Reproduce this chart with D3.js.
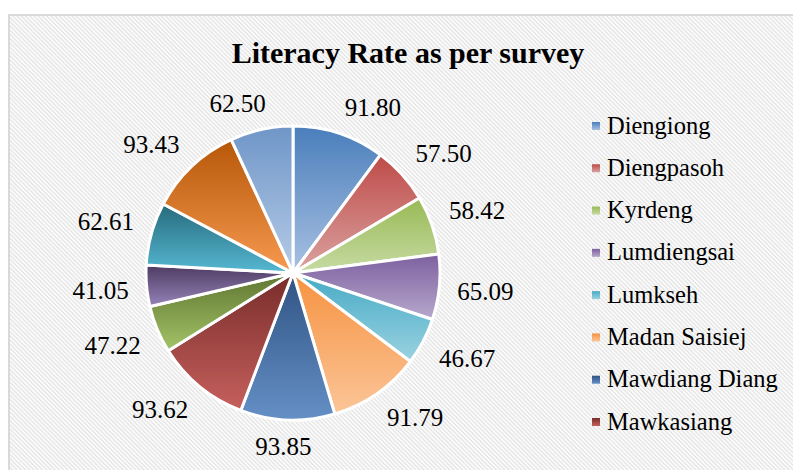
<!DOCTYPE html>
<html>
<head>
<meta charset="utf-8">
<script src="https://cdn.jsdelivr.net/npm/d3@7"></script>
<style>
  html, body { margin: 0; padding: 0; background: #fff; }
  svg { display: block; }
</style>
</head>
<body>
<svg id="chart" width="793" height="470"></svg>
<script>
// ---- data ----
const title = "Literacy Rate as per survey";
// legend entries that are visible in the reference (the rest are cut off there)
const legendNames = ["Diengiong", "Diengpasoh", "Kyrdeng", "Lumdiengsai", "Lumkseh",
                     "Madan Saisiej", "Mawdiang Diang", "Mawkasiang"];
const literacy = [91.80, 57.50, 58.42, 65.09, 46.67, 91.79, 93.85, 93.62, 47.22, 41.05, 62.61, 93.43, 62.50];

// ---- style ----
const FONT = "'Liberation Serif', 'Times New Roman', Tinos, 'DejaVu Serif', serif";
const topColors = ["#4a7ebb","#be4b48","#98b954","#7d60a0","#46aac5","#f69240",
                   "#2f5282","#772c2a","#5f7530","#4d3b62","#276a7c","#b65708","#6f96c8"];
const bottomColors = ["#a9c1e2","#daa3a1","#c7dba4","#b7a8cc","#9ad2e1","#fbc598",
                      "#6590c6","#c6605d","#a3c468","#9683b8","#55b8d2","#f79a50","#b6cbe6"];

const W = 793, H = 470;
const svg = d3.select("#chart").style("font-family", FONT);
const defs = svg.append("defs");

// diagonal stripe background
const pat = defs.append("pattern")
  .attr("id", "stripes").attr("patternUnits", "userSpaceOnUse")
  .attr("width", 3).attr("height", 3)
  .attr("patternTransform", "rotate(-45)");
pat.append("rect").attr("width", 3).attr("height", 3).attr("fill", "#ffffff");
pat.append("rect").attr("width", 1.4).attr("height", 3).attr("fill", "#e2e2e2");

svg.append("rect").attr("width", W).attr("height", H).attr("fill", "#fff");
svg.append("rect")
  .attr("x", 9).attr("y", 15).attr("width", W + 10).attr("height", H + 10)
  .attr("fill", "url(#stripes)")
  .attr("stroke", "#d9d9d9").attr("stroke-width", 2);

// gradients
literacy.forEach((v, i) => {
  const g = defs.append("linearGradient").attr("id", "grad" + i)
    .attr("x1", 0).attr("y1", 0).attr("x2", 0).attr("y2", 1);
  g.append("stop").attr("offset", "0%").attr("stop-color", topColors[i]);
  g.append("stop").attr("offset", "100%").attr("stop-color", bottomColors[i]);
});

// title
svg.append("text")
  .attr("x", 408).attr("y", 63)
  .attr("text-anchor", "middle")
  .style("font-family", FONT)
  .style("font-size", "30px").style("font-weight", "bold")
  .attr("fill", "#000")
  .text(title);

// pie
const cx = 293, cy = 273, r = 147;
const pie = d3.pie().sort(null).value(d => d);
const arcs = pie(literacy);
const arc = d3.arc().innerRadius(0).outerRadius(r);
const g = svg.append("g").attr("transform", `translate(${cx},${cy})`);

g.selectAll("path.slice").data(arcs).enter().append("path")
  .attr("class", "slice")
  .attr("d", arc)
  .attr("fill", (d, i) => `url(#grad${i})`)
  .attr("stroke", "#fff").attr("stroke-width", 3).attr("stroke-linejoin", "round");

// labels (outside end)
const D = 165, k = 3.3, hHalf = 8.7;
const clamp = x => Math.max(-1, Math.min(1, x));
g.selectAll("text.lbl").data(arcs).enter().append("text")
  .attr("class", "lbl")
  .style("font-family", FONT)
  .style("font-size", "25px")
  .attr("fill", "#000")
  .attr("text-anchor", "middle")
  .attr("dy", "0.34em")
  .text(d => d.data.toFixed(2))
  .each(function(d) {
    const a = (d.startAngle + d.endAngle) / 2;
    const ux = Math.sin(a), uy = -Math.cos(a);
    const w = this.getComputedTextLength();
    const x = D * ux + (w / 2) * clamp(k * ux);
    const y = D * uy + hHalf * clamp(k * uy);
    d3.select(this).attr("x", x).attr("y", y);
  });

// legend
const lg = svg.append("g");
const ly = d3.scalePoint().domain(legendNames).range([126, 422]);
legendNames.forEach((name, i) => {
  lg.append("rect")
    .attr("x", 592).attr("y", ly(name) - 4).attr("width", 8).attr("height", 8)
    .attr("fill", `url(#grad${i})`);
  lg.append("text")
    .attr("x", 607).attr("y", ly(name) + 7.5)
    .style("font-family", FONT)
    .style("font-size", "24.5px")
    .attr("fill", "#000")
    .text(name);
});
</script>
</body>
</html>
